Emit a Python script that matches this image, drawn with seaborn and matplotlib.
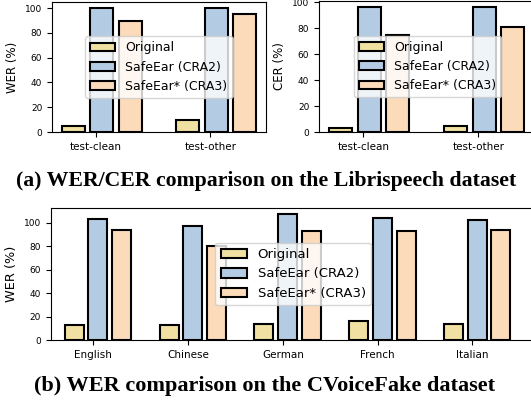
import pandas as pd
import numpy as np
import matplotlib
matplotlib.use("Agg")
import matplotlib.pyplot as plt
import seaborn as sns

# values
methods = ["Original", "SafeEar (CRA2)", "SafeEar* (CRA3)"]
colors = ["#F0E1A3", "#B4CCE3", "#FBDBBA"]

libri_sets = ["test-clean", "test-other"]
libri_wer = {"Original": [5, 10], "SafeEar (CRA2)": [100, 100], "SafeEar* (CRA3)": [90, 95]}
libri_cer = {"Original": [3, 5], "SafeEar (CRA2)": [96, 96], "SafeEar* (CRA3)": [75, 81]}

languages = ["English", "Chinese", "German", "French", "Italian"]
cvf_wer = {"Original": [13, 13, 14, 16, 14],
           "SafeEar (CRA2)": [103, 97, 107, 104, 102],
           "SafeEar* (CRA3)": [94, 80, 93, 93, 94]}


def to_long(cats, vals):
    rows = []
    for m in methods:
        for c, v in zip(cats, vals[m]):
            rows.append({"cat": c, "method": m, "value": v})
    return pd.DataFrame(rows)


def draw(ax, cats, vals, ylabel, xlim, lab_fs=8.5, leg_fs=9):
    df = to_long(cats, vals)
    sns.barplot(data=df, x="cat", y="value", hue="method", hue_order=methods,
                palette=colors, saturation=1, edgecolor="black", linewidth=1.5,
                width=0.75, gap=0.2, ax=ax)
    ax.set_xlabel("")
    ax.set_ylabel(ylabel, fontsize=lab_fs)
    # ticks sit a bit left of the group centre in the original
    ax.set_xticks(np.arange(len(cats)) - 0.05)
    ax.set_xticklabels(cats, fontsize=7.5)
    ax.tick_params(axis="y", labelsize=6.5)
    ax.set_yticks([0, 20, 40, 60, 80, 100])
    ax.set_xlim(*xlim)
    ax.get_legend().remove()
    ax.legend(loc="center", fontsize=leg_fs)


W, H = 531, 409
fig = plt.figure(figsize=(W / 100, H / 100), dpi=100)

def px_axes(x0, y0, x1, y1):
    return fig.add_axes([x0 / W, 1 - y1 / H, (x1 - x0) / W, (y1 - y0) / H])

ax1 = px_axes(52, 2, 266, 132)
ax2 = px_axes(319, 1, 536, 132)
ax3 = px_axes(50.5, 208, 536, 340)

draw(ax1, libri_sets, libri_wer, "WER (%)", (-0.435, 1.435))
draw(ax2, libri_sets, libri_cer, "CER (%)", (-0.435, 1.45))
draw(ax3, languages, cvf_wer, "WER (%)", (-0.5, 4.62), lab_fs=9.3, leg_fs=9.5)

fig.text(266 / W, 1 - 181 / H, "(a) WER/CER comparison on the Librispeech dataset",
         ha="center", va="center", fontsize=15.7, fontweight="bold",
         family="Liberation Serif")
fig.text(265 / W, 1 - 386 / H, "(b) WER comparison on the CVoiceFake dataset",
         ha="center", va="center", fontsize=16, fontweight="bold",
         family="Liberation Serif")

fig.savefig("out.png", dpi=100)
